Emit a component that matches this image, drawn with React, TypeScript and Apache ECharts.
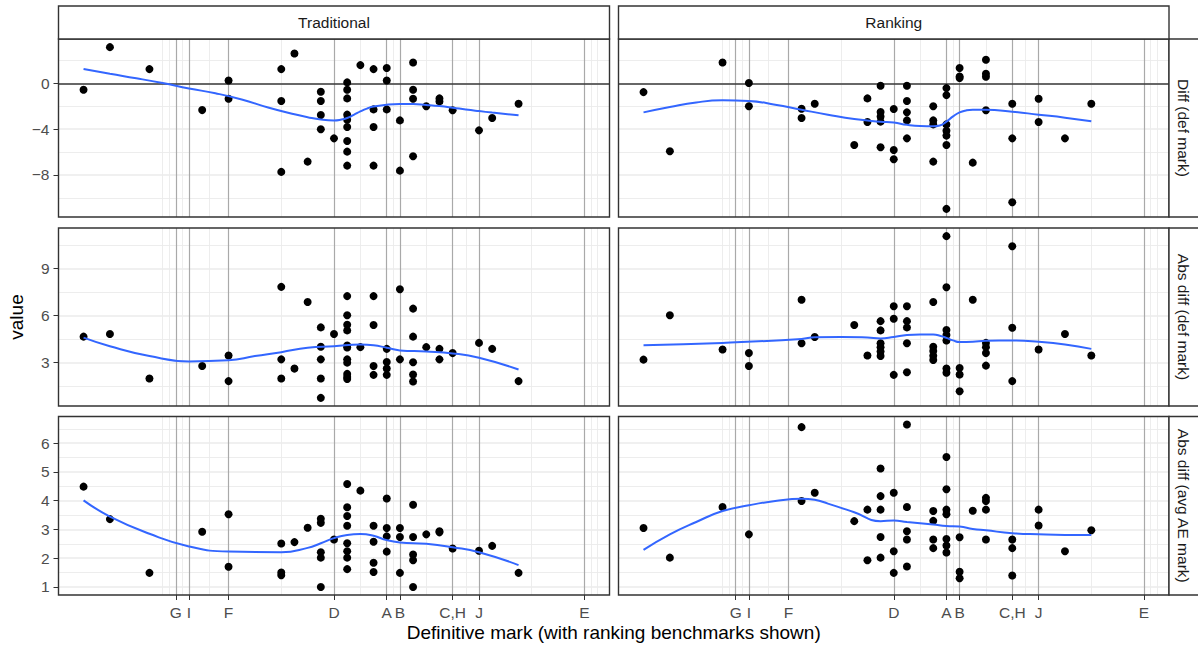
import React, { useEffect, useRef } from "react";
import * as echarts from "echarts";

// ---------- data ----------
const facetLabels = ["Traditional", "Ranking"];
const rowLabels = ["Diff (def mark)", "Abs diff (def mark)", "Abs diff (avg AE mark)"];
const xTitle = "Definitive mark (with ranking benchmarks shown)";
const yTitle = "value";

const benchmarkMarks = [48, 49, 52, 60, 64, 65, 69, 71, 79];
const benchmarkLabels = ["G", "I", "F", "D", "A", "B", "C,H", "J", "E"];
const minorXBreaks = [47, 47.5, 48.5, 50.5, 56, 62, 64.5, 67, 70, 75, 79.5, 80];
const xLimits = [39.1, 80.9];

const yLimits = [[-11.67, 3.88], [0.21, 11.58], [0.72, 6.93]];
const yMajor = [[-8, -4, 0], [3, 6, 9], [1, 2, 3, 4, 5, 6]];
const yMinor = [[-10, -6, -2, 2], [1.5, 4.5, 7.5, 10.5], [1.5, 2.5, 3.5, 4.5, 5.5, 6.5]];

const tradDiff = [[41,-0.55],[43,3.17],[46,1.25],[50,-2.33],[52,0.26],[52,-1.34],[56,1.25],[56,-1.54],[56,-7.73],[57,2.62],[58,-6.83],[59,-0.73],[59,-1.54],[59,-2.76],[59,-4.01],[60,-4.8],[61,0.09],[61,-0.55],[61,-1.31],[61,-2.73],[61,-3.17],[61,-3.81],[61,-5.03],[61,-5.96],[61,-7.18],[62,1.6],[63,1.25],[63,-2.27],[63,-3.81],[63,-7.18],[64,1.34],[64,0.26],[64,-2.27],[65,-3.23],[65,-7.62],[66,1.83],[66,-0.55],[66,-1.34],[66,-6.37],[67,-2.0],[68,-1.31],[68,-1.57],[69,-2.35],[71,-4.1],[72,-3.02],[74,-1.77]];
const tradAbs = [[41,4.64],[43,4.81],[46,1.97],[50,2.77],[52,3.44],[52,1.8],[56,7.82],[56,3.19],[56,1.97],[57,2.6],[58,6.85],[59,5.23],[59,3.99],[59,3.19],[59,1.97],[59,0.73],[60,4.81],[61,7.23],[61,6.01],[61,5.4],[61,5.04],[61,4.07],[61,3.95],[61,3.19],[61,2.98],[61,2.26],[61,2.07],[61,1.93],[62,3.97],[63,7.23],[63,5.38],[63,2.77],[63,2.2],[64,3.86],[64,3.02],[64,2.6],[64,2.2],[65,7.67],[65,3.19],[66,6.43],[66,4.64],[66,3.0],[66,2.22],[66,1.78],[67,3.97],[68,3.86],[68,3.19],[69,3.59],[71,4.24],[72,3.86],[74,1.8]];
const tradAvg = [[41,4.49],[43,3.36],[46,1.49],[50,2.92],[52,3.53],[52,1.7],[56,2.51],[56,1.5],[56,1.41],[57,2.56],[58,3.06],[59,3.37],[59,3.23],[59,2.21],[59,2.02],[59,1.0],[60,2.65],[61,4.58],[61,3.77],[61,3.47],[61,3.13],[61,2.52],[61,2.24],[61,2.02],[61,1.62],[62,4.35],[63,3.13],[63,2.57],[63,1.84],[63,1.52],[64,4.08],[64,3.05],[64,2.76],[64,2.23],[65,3.05],[65,2.74],[65,1.49],[66,3.86],[66,2.74],[66,2.13],[66,1.93],[66,1.0],[67,2.83],[68,2.94],[68,2.9],[69,2.34],[71,2.26],[72,2.43],[74,1.49]];

const rankDiff = [[41,-0.76],[43,-5.93],[47,1.83],[49,0.03],[49,-2.0],[53,-2.21],[53,-3.02],[54,-1.77],[57,-5.38],[58,-1.31],[58,-3.37],[59,-0.2],[59,-2.5],[59,-2.88],[59,-3.34],[59,-5.58],[60,-2.24],[60,-5.81],[60,-6.63],[61,-0.2],[61,-1.54],[61,-2.53],[61,-3.23],[61,-4.8],[63,-2.0],[63,-3.23],[63,-3.58],[63,-6.83],[64,-0.41],[64,-1.02],[64,-3.58],[64,-4.13],[64,-4.56],[64,-5.38],[64,-10.96],[65,1.34],[65,0.61],[65,0.47],[66,-6.92],[67,2.06],[67,0.84],[67,0.58],[67,-2.35],[69,-1.77],[69,-4.8],[69,-10.38],[71,-1.34],[71,-3.37],[73,-4.8],[75,-1.77]];
const rankAbs = [[41,3.17],[43,6.01],[47,3.82],[49,3.59],[49,2.77],[53,7.0],[53,4.22],[54,4.62],[57,5.38],[58,3.44],[59,5.63],[59,5.04],[59,4.22],[59,3.97],[59,3.69],[59,3.4],[60,6.58],[60,5.78],[60,2.2],[61,6.58],[61,5.63],[61,5.23],[61,4.22],[61,2.37],[63,6.85],[63,3.99],[63,3.72],[63,3.42],[63,3.15],[64,11.06],[64,7.8],[64,5.06],[64,4.75],[64,4.39],[64,2.6],[64,2.33],[65,2.64],[65,2.22],[65,1.15],[66,7.0],[67,4.24],[67,3.97],[67,3.59],[67,2.79],[69,10.41],[69,5.21],[69,1.8],[71,3.82],[73,4.81],[75,3.44]];
const rankAvg = [[41,3.05],[43,2.02],[47,3.78],[49,2.83],[53,6.56],[53,3.99],[54,4.28],[57,3.29],[58,3.69],[58,1.93],[59,5.12],[59,4.16],[59,3.69],[59,2.74],[59,2.02],[60,4.28],[60,2.24],[60,1.49],[61,6.65],[61,3.78],[61,2.94],[61,2.65],[61,1.71],[63,3.64],[63,3.3],[63,2.65],[63,2.35],[64,5.52],[64,4.4],[64,3.69],[64,3.53],[64,2.67],[64,2.44],[64,2.2],[65,2.73],[65,1.53],[65,1.3],[66,3.65],[67,4.1],[67,3.99],[67,3.69],[67,2.65],[69,2.65],[69,2.35],[69,1.4],[71,3.69],[71,3.14],[73,2.24],[75,2.97]];

// loess smooth curves
const tradDiffSmooth = [[41,1.25],[43,0.84],[45,0.45],[47,0.03],[49,-0.44],[51,-0.86],[53,-1.4],[55,-2.1],[57,-2.7],[58,-2.95],[59,-3.15],[60,-3.23],[60.5,-3.17],[61,-3.02],[61.5,-2.75],[62,-2.45],[62.5,-2.2],[63,-2.02],[64,-1.86],[65,-1.8],[66,-1.8],[67,-1.88],[68,-1.98],[69,-2.12],[70,-2.28],[71,-2.42],[72,-2.55],[73,-2.67],[74,-2.79]];
const rankDiffSmooth = [[41,-2.53],[43,-2.06],[45,-1.66],[47,-1.48],[49,-1.54],[51,-1.86],[53,-2.3],[55,-2.73],[57,-3.11],[59,-3.34],[60,-3.42],[61,-3.62],[62,-3.73],[63,-3.75],[63.5,-3.68],[64,-3.34],[64.5,-2.88],[65,-2.53],[65.5,-2.36],[66,-2.3],[67,-2.3],[69,-2.47],[71,-2.73],[73,-2.99],[75,-3.31]];
const tradAbsSmooth = [[41,4.58],[43,4.03],[46,3.4],[49,3.06],[52,3.13],[54,3.4],[56,3.65],[58,3.93],[60,4.03],[62,4.14],[63,4.09],[64,3.93],[65,3.76],[67,3.69],[69,3.57],[71,3.29],[74,2.54]];
const rankAbsSmooth = [[41,4.09],[47,4.24],[53,4.49],[54,4.6],[56,4.62],[58,4.58],[59,4.52],[60,4.62],[61,4.75],[62,4.78],[63,4.77],[63.5,4.7],[64,4.56],[64.5,4.4],[65,4.3],[66,4.32],[67,4.38],[69,4.39],[71,4.31],[73,4.14],[75,3.86]];
const tradAvgSmooth = [[41,4.01],[43,3.45],[46,2.85],[49,2.41],[52,2.23],[56,2.21],[58,2.36],[59,2.52],[60,2.7],[61,2.81],[62,2.84],[63,2.78],[64,2.63],[65,2.55],[67,2.5],[69,2.38],[71,2.21],[74,1.76]];
const rankAvgSmooth = [[41,2.29],[43,2.83],[45,3.26],[47,3.64],[49,3.84],[51,3.99],[53,4.07],[54,4.03],[55,3.9],[57,3.6],[59,3.29],[60,3.31],[61,3.26],[63,3.17],[64,3.12],[65,3.1],[66,3.02],[67,2.97],[69,2.87],[71,2.83],[73,2.81],[75,2.81]];

const pointSets = [[tradDiff, rankDiff], [tradAbs, rankAbs], [tradAvg, rankAvg]];
const smoothSets = [[tradDiffSmooth, rankDiffSmooth], [tradAbsSmooth, rankAbsSmooth], [tradAvgSmooth, rankAvgSmooth]];
const zeroLineRows = [0];

// ---------- layout / style ----------
const FONT = "'Liberation Sans', Arial, sans-serif";
const colLeft = [58.5, 618.5];
const colWidth = [551, 550.5];
const rowTop = [39, 228, 416.5];
const rowHeight = [178, 178, 178.5];
const stripTop = 6;
const stripRight = 1169;
const GRID_COL = "#EBEBEB";
const BORDER = "#333333";

function fmtNum(v: number) {
  return v < 0 ? "\u2212" + Math.abs(v) : String(v);
}

function buildOption() {
  const grid: any[] = [];
  const xAxis: any[] = [];
  const yAxis: any[] = [];
  const series: any[] = [];
  const graphic: any[] = [];

  for (let r = 0; r < 3; r++) {
    for (let c = 0; c < 2; c++) {
      const idx = r * 2 + c;
      const isBottom = r === 2;
      const isLeft = c === 0;
      grid.push({ left: colLeft[c], top: rowTop[r], width: colWidth[c], height: rowHeight[r], show: false });
      xAxis.push({
        gridIndex: idx,
        type: "value",
        min: xLimits[0],
        max: xLimits[1],
        axisLine: { show: false },
        splitLine: { show: false },
        axisTick: { show: isBottom, customValues: benchmarkMarks, length: 5, lineStyle: { color: BORDER, width: 1 } },
        axisLabel: {
          show: isBottom,
          customValues: benchmarkMarks,
          formatter: (v: number) => {
            const i = benchmarkMarks.indexOf(Math.round(v));
            return i >= 0 ? benchmarkLabels[i] : "";
          },
          margin: 9,
          color: "#4D4D4D",
          fontSize: 15.5,
          fontFamily: FONT,
        },
      });
      yAxis.push({
        gridIndex: idx,
        type: "value",
        min: yLimits[r][0],
        max: yLimits[r][1],
        axisLine: { show: false },
        splitLine: { show: false },
        axisTick: { show: isLeft, customValues: yMajor[r], length: 5, lineStyle: { color: BORDER, width: 1 } },
        axisLabel: {
          show: isLeft,
          customValues: yMajor[r],
          formatter: (v: number) => fmtNum(Math.round(v * 100) / 100),
          margin: 9,
          color: "#4D4D4D",
          fontSize: 15.5,
          fontFamily: FONT,
        },
      });

      const lines: any[] = [];
      minorXBreaks.forEach((v) => lines.push({ xAxis: v, lineStyle: { color: GRID_COL, width: 0.9, type: "solid" } }));
      yMinor[r].forEach((v) => lines.push({ yAxis: v, lineStyle: { color: GRID_COL, width: 0.9, type: "solid" } }));
      yMajor[r].forEach((v) => lines.push({ yAxis: v, lineStyle: { color: GRID_COL, width: 1.5, type: "solid" } }));
      benchmarkMarks.forEach((v) => lines.push({ xAxis: v, lineStyle: { color: "#A9A9A9", width: 1.2, type: "solid" } }));
      if (zeroLineRows.indexOf(r) >= 0) lines.push({ yAxis: 0, lineStyle: { color: "#3A3A3A", width: 1.5, type: "solid" } });

      series.push({
        type: "line",
        xAxisIndex: idx,
        yAxisIndex: idx,
        data: [],
        z: 1,
        silent: true,
        markLine: {
          silent: true,
          z: 1,
          symbol: ["none", "none"],
          label: { show: false },
          emphasis: { disabled: true },
          animation: false,
          data: lines,
        },
      });
      series.push({
        type: "scatter",
        xAxisIndex: idx,
        yAxisIndex: idx,
        data: pointSets[r][c],
        symbol: "circle",
        symbolSize: 8,
        itemStyle: { color: "#000000", opacity: 1 },
        z: 3,
        silent: true,
      });
      series.push({
        type: "line",
        xAxisIndex: idx,
        yAxisIndex: idx,
        data: smoothSets[r][c],
        smooth: 0.5,
        showSymbol: false,
        symbol: "none",
        lineStyle: { color: "#3366FF", width: 2 },
        z: 4,
        silent: true,
      });

      // panel border
      graphic.push({
        type: "rect",
        z: 100,
        silent: true,
        shape: { x: colLeft[c], y: rowTop[r], width: colWidth[c], height: rowHeight[r] },
        style: { fill: "none", stroke: BORDER, lineWidth: 1.4 },
      });
    }
    // right strip
    graphic.push({
      type: "rect",
      z: 100,
      silent: true,
      shape: { x: stripRight, y: rowTop[r], width: 40, height: rowHeight[r] },
      style: { fill: "#FFFFFF", stroke: BORDER, lineWidth: 1.4 },
    });
    graphic.push({
      type: "text",
      z: 101,
      silent: true,
      x: stripRight + 14,
      y: rowTop[r] + rowHeight[r] / 2,
      rotation: -Math.PI / 2,
      style: { text: rowLabels[r], fill: "#1A1A1A", fontSize: 15.5, fontFamily: FONT, textAlign: "center", textVerticalAlign: "middle" },
    });
  }
  // top strips
  for (let c = 0; c < 2; c++) {
    graphic.push({
      type: "rect",
      z: 100,
      silent: true,
      shape: { x: colLeft[c], y: stripTop, width: colWidth[c], height: rowTop[0] - stripTop },
      style: { fill: "#FFFFFF", stroke: BORDER, lineWidth: 1.4 },
    });
    graphic.push({
      type: "text",
      z: 101,
      silent: true,
      x: colLeft[c] + colWidth[c] / 2,
      y: (stripTop + rowTop[0]) / 2,
      style: { text: facetLabels[c], fill: "#1A1A1A", fontSize: 15.5, fontFamily: FONT, textAlign: "center", textVerticalAlign: "middle" },
    });
  }
  // axis titles
  graphic.push({
    type: "text",
    silent: true,
    x: (colLeft[0] + stripRight) / 2,
    y: 632,
    style: { text: xTitle, fill: "#000000", fontSize: 19, fontFamily: FONT, textAlign: "center", textVerticalAlign: "middle" },
  });
  graphic.push({
    type: "text",
    silent: true,
    x: 16,
    y: (rowTop[0] + rowTop[2] + rowHeight[2]) / 2,
    rotation: Math.PI / 2,
    style: { text: yTitle, fill: "#000000", fontSize: 19, fontFamily: FONT, textAlign: "center", textVerticalAlign: "middle" },
  });

  return { animation: false, backgroundColor: "#FFFFFF", grid, xAxis, yAxis, series, graphic };
}

export default function App() {
  const ref = useRef<HTMLDivElement>(null);
  useEffect(() => {
    if (!ref.current) return;
    const chart = echarts.init(ref.current, null, { renderer: "svg" });
    chart.setOption(buildOption() as any);
    return () => chart.dispose();
  }, []);
  return (
    <div
      ref={ref}
      style={{ position: "fixed", left: 0, top: 0, width: 1198, height: 648, background: "#FFFFFF" }}
    />
  );
}
